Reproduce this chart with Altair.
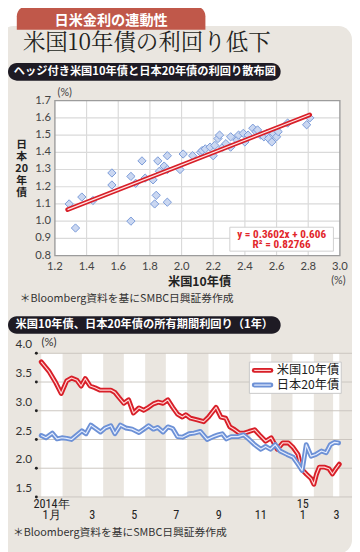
import altair as alt
import pandas as pd

# ---------------- texts ----------------
tab_title = "日米金利の連動性"
main_title = "米国10年債の利回り低下"
sub_title_1 = "ヘッジ付き米国10年債と日本20年債の利回り散布図"
sub_title_2 = "米国10年債、日本20年債の所有期間利回り（1年）"
source_note = "＊Bloomberg資料を基にSMBC日興証券作成"
scatter_x_title = "米国10年債"
scatter_y_title = ["日", "本", "20", "年", "債"]
equation_lines = ["y = 0.3602x + 0.606", "R² = 0.82766"]
series_names = ["米国10年債", "日本20年債"]

# ---------------- scatter data (%) ----------------
us10_hedged = [1.29, 1.33, 1.37, 1.44, 1.56, 1.56, 1.68, 1.68, 1.71, 1.75, 1.77, 1.82,
               1.84, 1.83, 1.85, 1.86, 1.89, 1.91, 1.91, 1.91, 1.99, 2.01, 2.07, 2.12,
               2.13, 2.15, 2.18, 2.20, 2.21, 2.23, 2.24, 2.26, 2.28, 2.31, 2.31, 2.35,
               2.36, 2.39, 2.40, 2.42, 2.45, 2.47, 2.48, 2.50, 2.52, 2.54, 2.55, 2.57,
               2.58, 2.60, 2.61, 2.67, 2.79, 2.81]
jgb20 = [1.10, 0.96, 1.14, 1.12, 1.28, 1.21, 1.00, 1.26, 1.22, 1.35, 1.25, 1.24,
         1.15, 1.10, 1.35, 1.29, 1.32, 1.38, 1.11, 1.30, 1.30, 1.39, 1.38, 1.40,
         1.41, 1.42, 1.43, 1.38, 1.44, 1.48, 1.50, 1.43, 1.45, 1.43, 1.49, 1.47,
         1.50, 1.51, 1.46, 1.50, 1.54, 1.52, 1.53, 1.50, 1.49, 1.51, 1.48, 1.46,
         1.51, 1.49, 1.52, 1.57, 1.56, 1.60]
trend_x = [1.28, 2.81]
trend_y = [1.067, 1.618]
scatter_x_ticks = [1.2, 1.4, 1.6, 1.8, 2.0, 2.2, 2.4, 2.6, 2.8, 3.0]
scatter_y_ticks = [0.8, 0.9, 1.0, 1.1, 1.2, 1.3, 1.4, 1.5, 1.6, 1.7]

# ---------------- line data: days since 2014-01-01, holding-period return (%) ----------------
us_days = [0, 11, 21, 29, 37, 44, 52, 58, 64, 71, 78, 85, 92, 101, 107, 113, 120, 127, 134,
           142, 149, 156, 163, 170, 177, 184, 191, 198, 205, 210, 217, 227, 236, 243, 254,
           261, 268, 274, 281, 288, 295, 302, 310, 317, 326, 334, 343, 351, 359, 366, 373,
           378, 385, 392, 396, 400, 404, 411, 418, 423, 428, 433]
us_ret = [3.85, 3.69, 3.49, 3.30, 3.52, 3.57, 3.53, 3.43, 3.56, 3.43, 3.40, 3.36, 3.36,
          3.36, 3.32, 3.23, 3.13, 3.19, 2.96, 3.05, 3.01, 3.06, 3.12, 3.15, 3.13, 3.19,
          3.06, 2.94, 2.89, 2.93, 2.87, 2.84, 2.81, 2.89, 3.06, 2.89, 2.87, 2.72, 2.67,
          2.61, 2.61, 2.64, 2.67, 2.58, 2.47, 2.53, 2.33, 2.44, 2.44, 2.36, 2.24, 1.99,
          1.90, 1.82, 1.72, 1.90, 2.02, 2.02, 1.99, 1.90, 1.99, 2.07]
jp_days = [0, 7, 16, 23, 30, 37, 44, 52, 59, 65, 72, 78, 86, 93, 101, 107, 115, 123, 132,
           142, 149, 156, 163, 169, 177, 184, 191, 198, 205, 215, 222, 231, 241, 250, 257,
           263, 269, 276, 286, 294, 302, 310, 319, 326, 333, 340, 347, 357, 366, 373, 379,
           385, 392, 399, 407, 414, 420, 426, 432]
jp_ret = [2.57, 2.53, 2.61, 2.51, 2.53, 2.52, 2.50, 2.58, 2.65, 2.60, 2.75, 2.70, 2.63,
          2.70, 2.74, 2.60, 2.75, 2.70, 2.68, 2.62, 2.68, 2.74, 2.68, 2.71, 2.63, 2.72,
          2.69, 2.55, 2.54, 2.60, 2.61, 2.64, 2.50, 2.55, 2.58, 2.60, 2.51, 2.55, 2.55,
          2.58, 2.50, 2.41, 2.33, 2.38, 2.33, 2.41, 2.30, 2.24, 2.19, 2.07, 1.96, 2.41,
          2.21, 2.24, 2.30, 2.27, 2.41, 2.45, 2.44]
line_y_ticks = [1.5, 2.0, 2.5, 3.0, 3.5, 4.0]
odd_month_start = [0, 59, 120, 181, 243, 304, 365, 424]
odd_month_end = [31, 90, 151, 212, 273, 334, 396, 433]
month_label_day = [15, 74, 135, 196, 258, 319, 380, 429]
month_labels = ["1月", "3", "5", "7", "9", "11", "1", "3"]
year_label_day = [15, 380]
year_labels = ["2014年", "15"]

# ---------------- styling ----------------
W, H = 352, 544
PANEL = "#eae6e0"
TAB = "#c0584a"
PILL = "#1e1b24"
RED = "#d81f28"
BLUE = "#6d91d6"
GRID = "#dadada"
JP = "Noto Sans CJK JP"
JP_SERIF = "Noto Serif CJK JP, Noto Sans CJK JP"
NUM = "Lato, Noto Sans, sans-serif"
NARROW = "Liberation Sans Narrow, Roboto Condensed, DejaVu Sans Condensed, Liberation Sans, sans-serif"


def px(x):
    return x - 8


def py(y):
    return y - 8


one = pd.DataFrame({"k": [0]})


def box(x1, y1, x2, y2, **kw):
    return alt.Chart(one).mark_rect(**kw).encode(
        x=alt.value(px(x1)), x2=alt.value(px(x2)),
        y=alt.value(py(y1)), y2=alt.value(py(y2)))


def txt(s, x, y, **kw):
    kw.setdefault("baseline", "middle")
    return alt.Chart(one).mark_text(text=s, **kw).encode(
        x=alt.value(px(x)), y=alt.value(py(y)))


SX = alt.Scale(domain=[1.2, 3.0], range=[px(56), px(347.6)], nice=False, zero=False)
SY = alt.Scale(domain=[0.8, 1.7], range=[py(255), py(96.5)], nice=False, zero=False)
LX = alt.Scale(domain=[0, 433], range=[px(42), px(347)], nice=False, zero=False)
LY = alt.Scale(domain=[1.5, 4.0], range=[py(502), py(355)], nice=False, zero=False)

layers = []
# panel / headers
layers.append(box(0, 20, 360, 560, fill=PANEL, cornerRadius=14))
layers.append(box(17, 0, 210, 24, fill=TAB, cornerRadiusTopLeft=10, cornerRadiusTopRight=10))
layers.append(txt(tab_title, 113.5, 15, font=JP, fontSize=14.5, fontWeight="bold", color="white"))
layers.append(txt(main_title, 150, 38, font=JP_SERIF, fontSize=23, color="#231f20"))
layers.append(box(8, 58, 287, 76, fill=PILL, cornerRadius=9))
layers.append(txt(sub_title_1, 148, 67, font=JP, fontSize=11.5, fontWeight="bold", color="white"))

# ---------- scatter ----------
sx_df = pd.DataFrame({"v": scatter_x_ticks})
sy_df = pd.DataFrame({"v": scatter_y_ticks})
layers.append(box(56, 96.5, 347.6, 255, fill="white"))
layers.append(alt.Chart(pd.DataFrame({"v": scatter_x_ticks[1:-1]})).mark_rule(color=GRID, strokeWidth=1.2).encode(
    x=alt.X("v:Q", scale=SX, axis=None), y=alt.value(py(96.5)), y2=alt.value(py(255))))
layers.append(alt.Chart(pd.DataFrame({"v": scatter_y_ticks[1:-1]})).mark_rule(color=GRID, strokeWidth=1.2).encode(
    y=alt.Y("v:Q", scale=SY, axis=None), x=alt.value(px(56)), x2=alt.value(px(347.6))))
layers.append(box(56, 96.5, 347.6, 255, fillOpacity=0, stroke="#9c9c9c", strokeWidth=1.4))

sc_df = pd.DataFrame({"us": us10_hedged, "jp": jgb20})
layers.append(alt.Chart(sc_df).mark_point(shape="diamond", filled=True, size=72, fill="#cad7f1",
                                          stroke="#7a9bd8", strokeWidth=1, opacity=1).encode(
    x=alt.X("us:Q", scale=SX, axis=None), y=alt.Y("jp:Q", scale=SY, axis=None)))
tr_df = pd.DataFrame({"x": trend_x, "y": trend_y})
layers.append(alt.Chart(tr_df).mark_line(color=RED, strokeWidth=4.6, strokeCap="round").encode(
    x=alt.X("x:Q", scale=SX, axis=None), y=alt.Y("y:Q", scale=SY, axis=None)))
layers.append(alt.Chart(tr_df).mark_line(color="#ffe4e4", strokeWidth=1.2).encode(
    x=alt.X("x:Q", scale=SX, axis=None), y=alt.Y("y:Q", scale=SY, axis=None)))

layers.append(box(235, 226, 341, 250.5, fill="white", stroke="#d0d0d0", strokeWidth=1))
layers.append(txt(equation_lines[0], 288, 234, font=NARROW, fontSize=11.5, fontWeight="bold", color="#e2262b"))
layers.append(txt(equation_lines[1], 288, 244, font=NARROW, fontSize=11.5, fontWeight="bold", color="#e2262b"))

layers.append(alt.Chart(sx_df).mark_text(font=NUM, fontSize=11.5, color="#444", baseline="middle").encode(
    x=alt.X("v:Q", scale=SX, axis=None), y=alt.value(py(267)), text=alt.Text("v:Q", format=".1f")))
layers.append(alt.Chart(sy_df).mark_text(font=NUM, fontSize=11.5, color="#444", align="right", baseline="middle").encode(
    y=alt.Y("v:Q", scale=SY, axis=None), x=alt.value(px(52)), text=alt.Text("v:Q", format=".1f")))
layers.append(txt("(%)", 66, 89, font=NUM, fontSize=11, color="#444"))
layers.append(txt("(%)", 346, 281, font=NUM, fontSize=11, color="#444"))
layers.append(txt(scatter_x_title, 204, 282, font=JP, fontSize=12.5, fontWeight="bold", color="#222"))
for i, ch in enumerate(scatter_y_title):
    layers.append(txt(ch, 22, 142 + i * 12.2, font=JP, fontSize=11, fontWeight="bold", color="#222"))
layers.append(txt(source_note, 20, 300, font=JP, fontSize=11, color="#333", align="left"))

# ---------- line chart ----------
layers.append(box(8, 317, 287, 335, fill=PILL, cornerRadius=9))
layers.append(txt(sub_title_2, 147.5, 326, font=JP, fontSize=11.5, fontWeight="bold", color="white"))

band_df = pd.DataFrame({"s": odd_month_start, "e": odd_month_end})
layers.append(alt.Chart(band_df).mark_rect(fill="white").encode(
    x=alt.X("s:Q", scale=LX, axis=None), x2="e:Q", y=alt.value(py(355)), y2=alt.value(py(502))))
ly_df = pd.DataFrame({"v": line_y_ticks})
layers.append(alt.Chart(ly_df).mark_rule(color="#cbc6c0", strokeWidth=1).encode(
    y=alt.Y("v:Q", scale=LY, axis=None), x=alt.value(px(37)), x2=alt.value(px(360))))
layers.append(alt.Chart(ly_df).mark_circle(size=9, color="#222", opacity=1).encode(
    y=alt.Y("v:Q", scale=LY, axis=None), x=alt.value(px(37))))
layers.append(alt.Chart(ly_df).mark_text(font=NUM, fontSize=12, color="#333", align="right",
                                         baseline="middle", dy=-9).encode(
    y=alt.Y("v:Q", scale=LY, axis=None), x=alt.value(px(32.5)), text=alt.Text("v:Q", format=".1f")))
layers.append(txt("(%)", 50, 345, font=NUM, fontSize=11.5, color="#333"))

us_df = pd.DataFrame({"d": us_days, "r": us_ret})
jp_df = pd.DataFrame({"d": jp_days, "r": jp_ret})
for dfx, col, inner in [(us_df, RED, "#ffd6d6"), (jp_df, BLUE, "#e6eeff")]:
    layers.append(alt.Chart(dfx).mark_line(color=col, strokeWidth=5, strokeJoin="round", strokeCap="round").encode(
        x=alt.X("d:Q", scale=LX, axis=None), y=alt.Y("r:Q", scale=LY, axis=None)))
    layers.append(alt.Chart(dfx).mark_line(color=inner, strokeWidth=1.2, strokeJoin="round").encode(
        x=alt.X("d:Q", scale=LX, axis=None), y=alt.Y("r:Q", scale=LY, axis=None)))

# legend
layers.append(box(255, 364, 349, 396, fill="white", stroke="#c8c8c8", strokeWidth=1))
for i, (name, col, inner) in enumerate(zip(series_names, [RED, BLUE], ["#ffd6d6", "#e6eeff"])):
    yy = 372.5 + i * 15
    layers.append(alt.Chart(one).mark_rule(color=col, strokeWidth=5, strokeCap="round").encode(
        x=alt.value(px(260)), x2=alt.value(px(277)), y=alt.value(py(yy))))
    layers.append(alt.Chart(one).mark_rule(color=inner, strokeWidth=1.2).encode(
        x=alt.value(px(260)), x2=alt.value(px(277)), y=alt.value(py(yy))))
    layers.append(txt(name, 283, yy, font=JP, fontSize=12.5, color="#222", align="left"))

# month labels
ml_df = pd.DataFrame({"d": month_label_day, "t": month_labels})
layers.append(alt.Chart(ml_df).mark_text(font=NARROW, fontSize=12.5, color="#222", baseline="middle").encode(
    x=alt.X("d:Q", scale=LX, axis=None), y=alt.value(py(521)), text="t:N"))
yl_df = pd.DataFrame({"d": year_label_day, "t": year_labels})
layers.append(alt.Chart(yl_df).mark_text(font=NARROW, fontSize=12.5, color="#222", baseline="middle").encode(
    x=alt.X("d:Q", scale=LX, axis=None), y=alt.value(py(509)), text="t:N"))
layers.append(txt(source_note, 13, 539, font=JP, fontSize=11, color="#333", align="left"))

chart = alt.layer(*layers).resolve_scale(x="independent", y="independent").properties(
    width=W, height=H, autosize=alt.AutoSizeParams(type="none"), padding=0
).configure_view(stroke=None)

chart.save("out.html", embed_options={"renderer": "svg", "actions": False})
